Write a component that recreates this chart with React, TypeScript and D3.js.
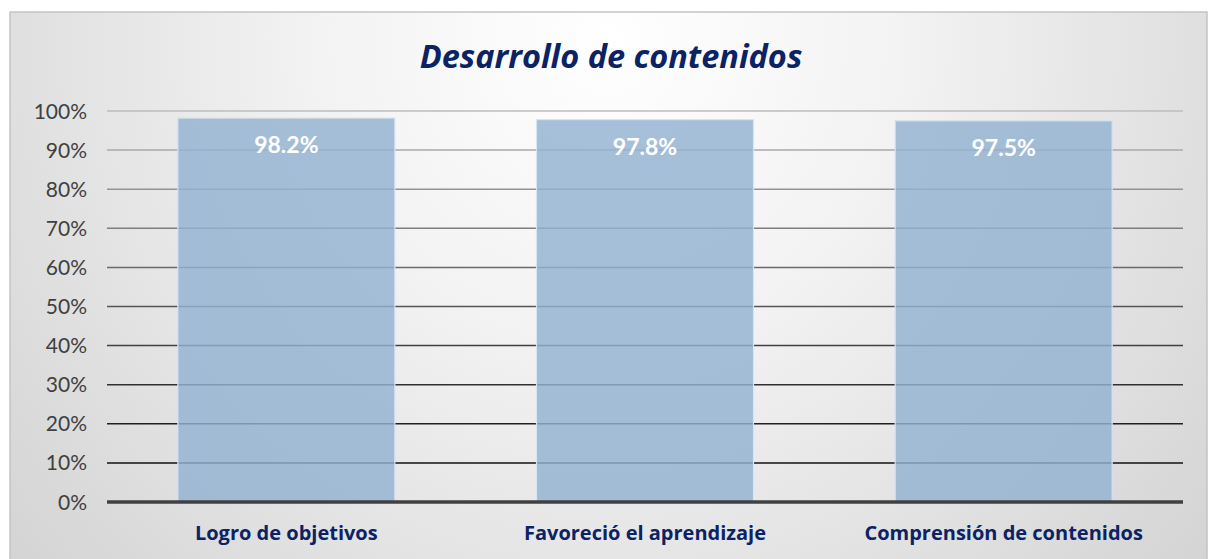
import React from "react";
import * as d3 from "d3";

const categories = ["Logro de objetivos", "Favoreció el aprendizaje", "Comprensión de contenidos"];
const values = [0.982, 0.978, 0.975];
const labels = ["98.2%", "97.8%", "97.5%"];
const yTicks = [0, 0.1, 0.2, 0.3, 0.4, 0.5, 0.6, 0.7, 0.8, 0.9, 1.0];

const W = 1218;
const H = 559;
const plot = { left: 107, right: 1183, top: 111, bottom: 502 };

export default function App() {
  const x = d3.scaleBand<string>().domain(categories).range([plot.left, plot.right]).paddingInner(0.395).paddingOuter(0.1975);
  const y = d3.scaleLinear().domain([0, 1]).range([plot.bottom, plot.top]);
  const gridColor = d3.scaleLinear<string>().domain([0, 0.4, 1]).range(["#000000", "#404040", "#bdbdbd"]);
  const fmt = d3.format(".0%");
  return (
    <svg width={W} height={H} style={{ position: "absolute", left: 0, top: 0 }}>
      <defs>
        <radialGradient id="bg" cx="0.5" cy="0.05" r="0.72" gradientTransform="translate(0.5,0.05) scale(1,2.2) translate(-0.5,-0.05)">
          <stop offset="0" stopColor="#ffffff" />
          <stop offset="0.35" stopColor="#f2f2f2" />
          <stop offset="1" stopColor="#cfcfcf" />
        </radialGradient>
      </defs>
      <rect x={10} y={12} width={1197} height={560} fill="url(#bg)" stroke="#c3c3c3" strokeWidth={1.5} />
      <text x={611} y={68} textAnchor="middle" fontFamily="'Open Sans', sans-serif" fontWeight="bold" fontStyle="italic" fontSize={32.5} fill="#0b2265">
        Desarrollo de contenidos
      </text>
      {yTicks.filter((t) => t > 0).map((t) => (
        <line key={t} x1={plot.left} x2={plot.right} y1={y(t)} y2={y(t)} stroke={gridColor(t)} strokeWidth={1.5} />
      ))}
      {yTicks.map((t) => (
        <text key={"l" + t} x={87} y={y(t)} dy="0.36em" textAnchor="end" fontFamily="Lato, sans-serif" fontSize={21} fill="#404040">
          {fmt(t)}
        </text>
      ))}
      {categories.map((c, i) => (
        <g key={c}>
          <rect x={x(c)} y={y(values[i])} width={x.bandwidth()} height={plot.bottom - y(values[i])} fill="#93b2d2" fillOpacity={0.82} stroke="#d6e3f0" strokeWidth={1.2} />
          <text x={(x(c) as number) + x.bandwidth() / 2} y={y(values[i]) + 35} textAnchor="middle" fontFamily="Lato, sans-serif" fontWeight="bold" fontSize={23} fill="#ffffff">
            {labels[i]}
          </text>
          <text x={(x(c) as number) + x.bandwidth() / 2} y={540} textAnchor="middle" fontFamily="'Open Sans', sans-serif" fontWeight="bold" fontSize={20} fill="#0b2265">
            {c}
          </text>
        </g>
      ))}
      <line x1={plot.left} x2={plot.right} y1={y(0)} y2={y(0)} stroke="#404040" strokeWidth={3.5} />
    </svg>
  );
}
